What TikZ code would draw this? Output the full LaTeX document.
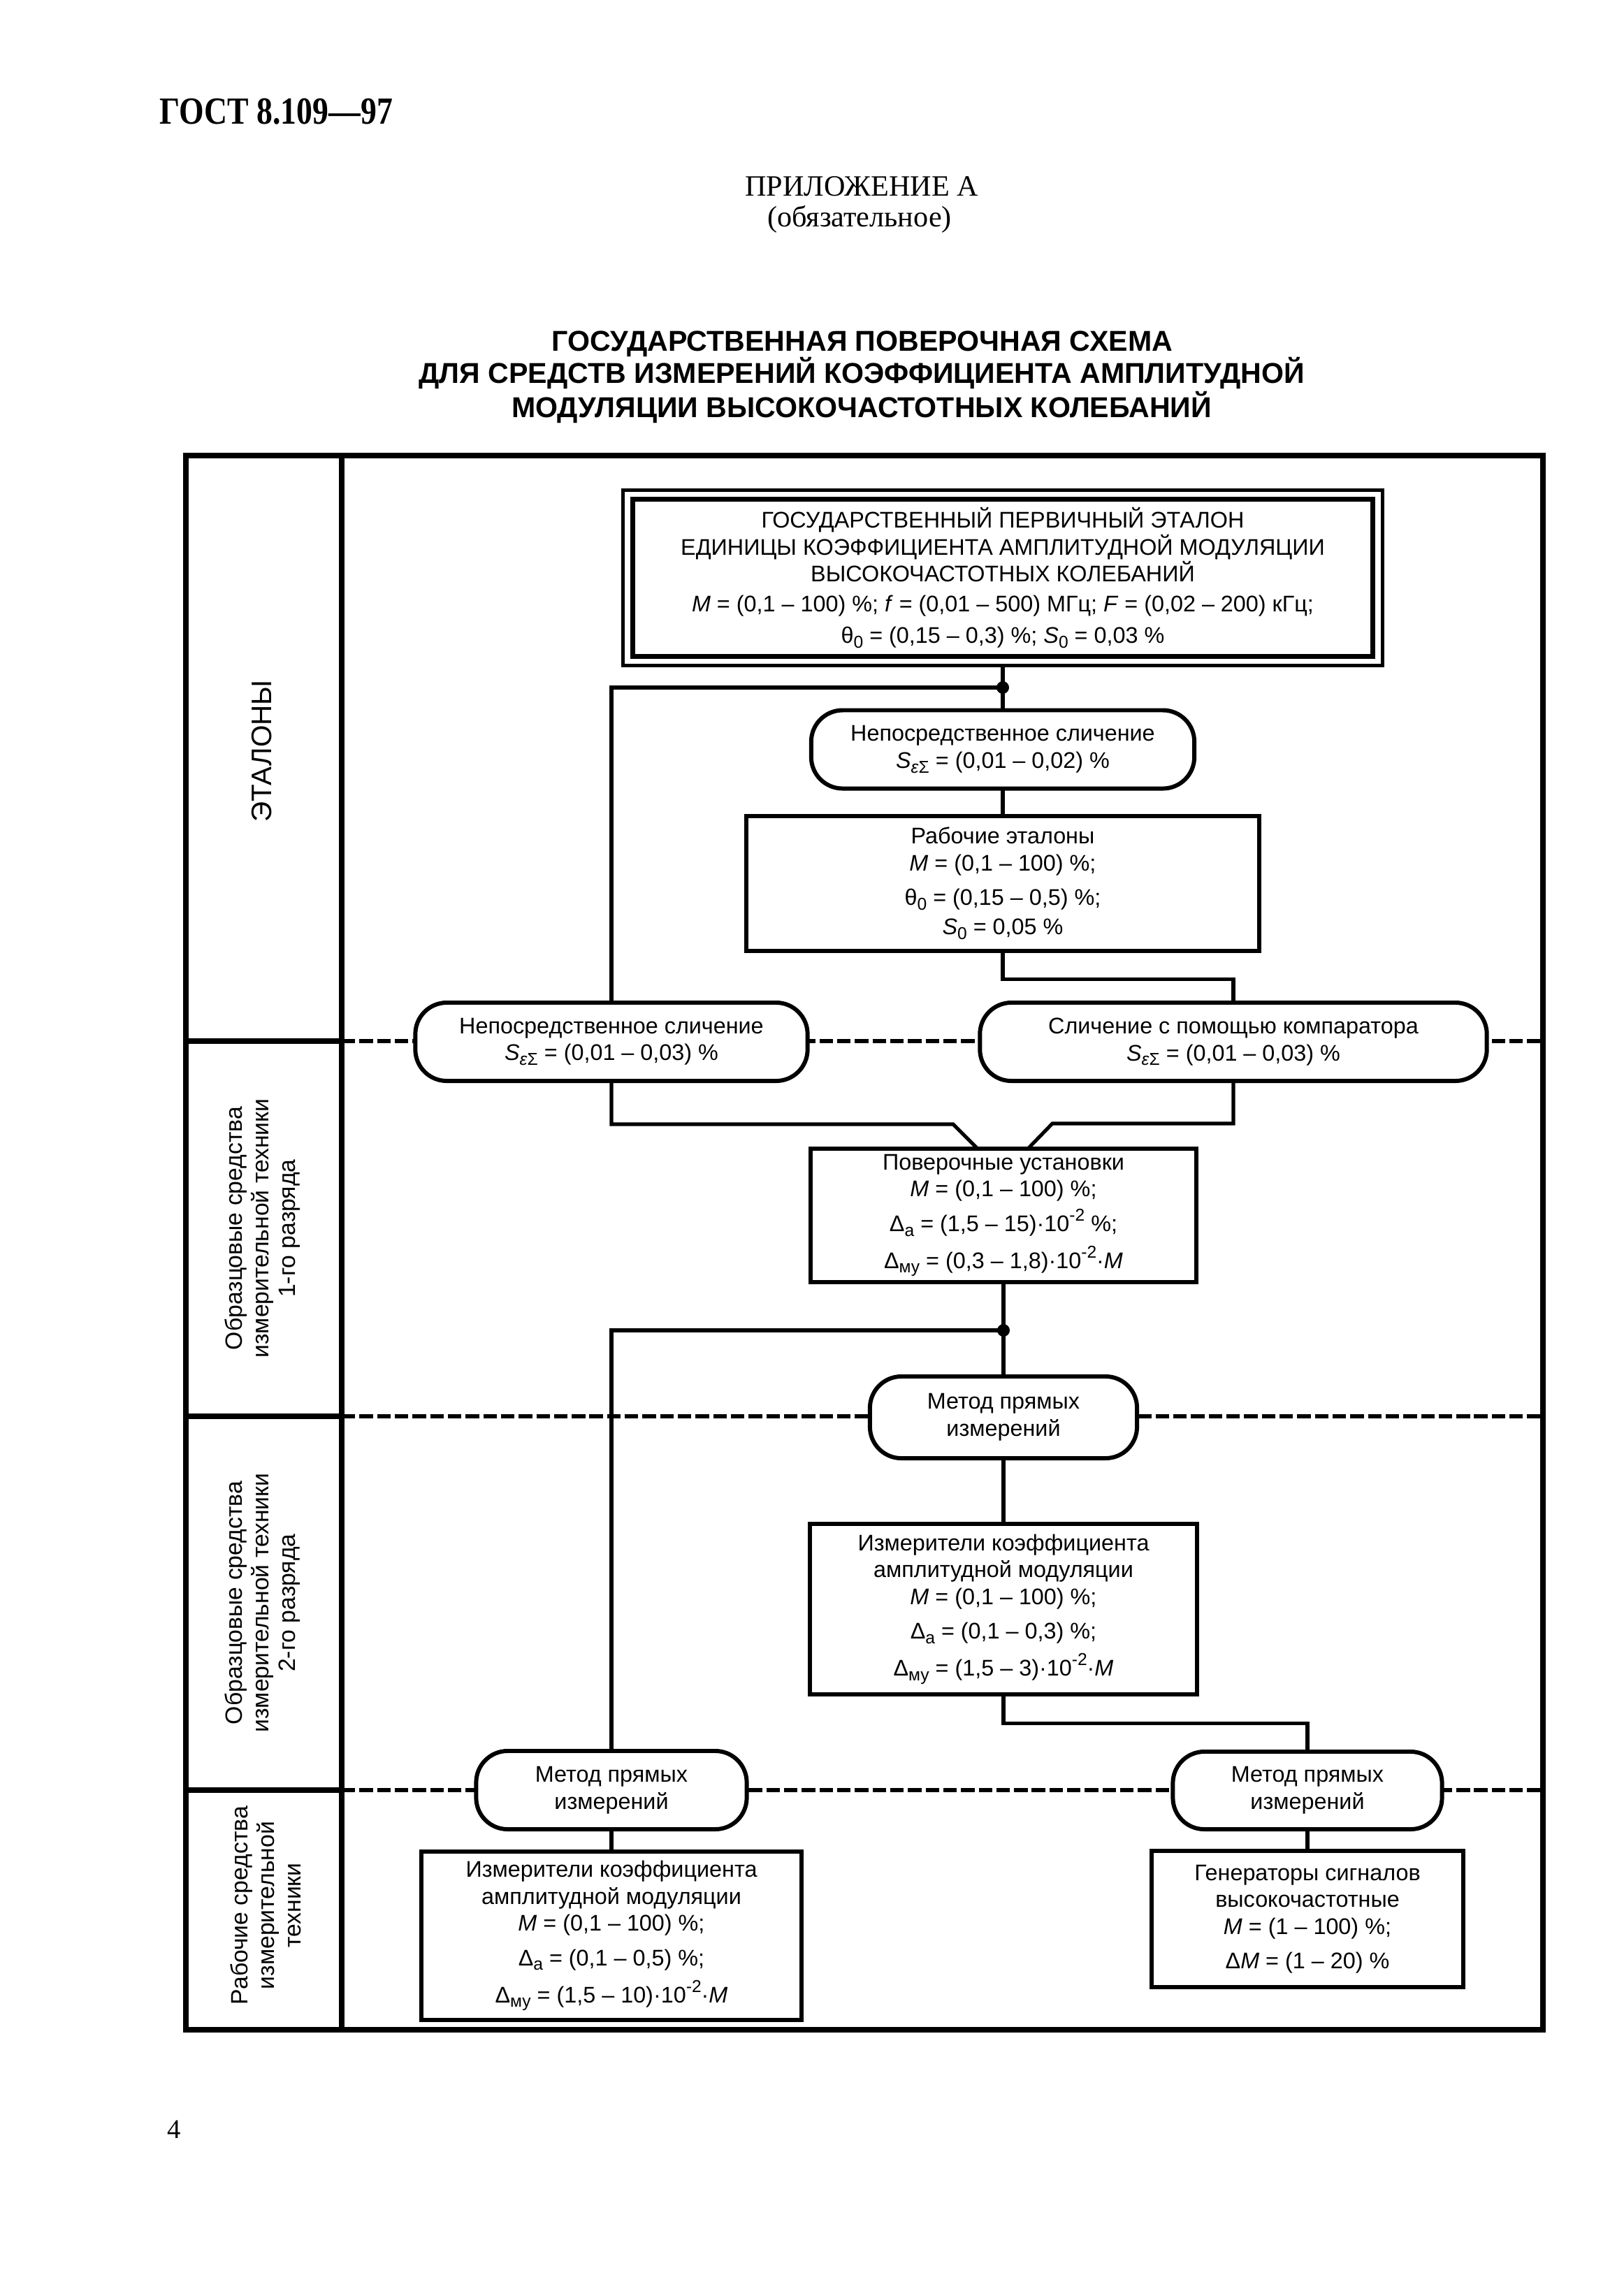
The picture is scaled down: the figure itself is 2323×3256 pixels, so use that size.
\documentclass[tikz,border=0pt]{standalone}
\usepackage{fontspec}
\setmainfont{Liberation Sans}
\newfontfamily\seriffont{Liberation Serif}
\usetikzlibrary{calc}
\newcommand{\lo}[1]{\raisebox{-0.4ex}{\fontsize{7}{7}\selectfont #1}}
\newcommand{\hi}[1]{\raisebox{0.85ex}{\fontsize{7}{7}\selectfont #1}}
\newcommand{\boxfont}{\fontsize{9.2}{11}\selectfont}
\begin{document}
\begin{tikzpicture}[x=0.01cm,y=-0.01cm,
 box/.style={draw, line width=1.7pt, fill=white, inner sep=0pt, outer sep=0pt, align=center, font=\boxfont},
 pill/.style={box, rounded corners=0.45cm},
 conn/.style={line width=1.45pt},
 divline/.style={line width=1.7pt, dash pattern=on 5.5pt off 1.7pt},
 frameline/.style={line width=2.3pt},
 dot/.style={circle, fill, inner sep=0pt, outer sep=0pt, minimum size=0.18cm},
 lbl/.style={rotate=90, align=center, font=\fontsize{9.6}{10.8}\selectfont}]
\useasboundingbox (0,0) rectangle (2323,3256);

% headings
\node[anchor=base west, inner sep=0pt, font=\seriffont\bfseries\fontsize{13}{15}\selectfont] (gost) at (228,177) {\scalebox{1}[1.2]{ГОСТ 8.109—97}};
\node[anchor=base, font=\seriffont\fontsize{12}{14}\selectfont] (app) at (1233,280) {ПРИЛОЖЕНИЕ А};
\node[anchor=base, font=\seriffont\fontsize{12}{14}\selectfont] (obl) at (1230,324) {(обязательное)};
\node[anchor=base, font=\bfseries\fontsize{11.7}{14}\selectfont] (t1) at (1234,502) {ГОСУДАРСТВЕННАЯ ПОВЕРОЧНАЯ СХЕМА};
\node[anchor=base, font=\bfseries\fontsize{11.7}{14}\selectfont] (t2) at (1233,548) {ДЛЯ СРЕДСТВ ИЗМЕРЕНИЙ КОЭФФИЦИЕНТА АМПЛИТУДНОЙ};
\node[anchor=base, font=\bfseries\fontsize{11.7}{14}\selectfont] (t3) at (1233,597) {МОДУЛЯЦИИ ВЫСОКОЧАСТОТНЫХ КОЛЕБАНИЙ};

% frame
\draw[frameline] (266,652) rectangle (2208,2905);
\draw[frameline] (489,652) -- (489,2905);
\foreach \yy in {1490,2027,2562} {
  \draw[frameline] (266,\yy) -- (489,\yy);
  \draw[divline] (489,\yy) -- (2208,\yy);
}

% row labels
\node[lbl, font=\fontsize{11.5}{13}\selectfont] (l1) at (375,1075) {ЭТАЛОНЫ};
\node[lbl] (l2) at (376,1758) {Образцовые средства\\измерительной техники\\1-го разряда};
\node[lbl] (l3) at (376,2294) {Образцовые средства\\измерительной техники\\2-го разряда};
\node[lbl] (l4) at (380,2727) {Рабочие средства\\измерительной\\техники};

% nodes
\node[box, line width=2pt, minimum width=10.59cm, minimum height=2.24cm] (prim) at (1435,827)
 {ГОСУДАРСТВЕННЫЙ ПЕРВИЧНЫЙ ЭТАЛОН\\ЕДИНИЦЫ КОЭФФИЦИЕНТА АМПЛИТУДНОЙ МОДУЛЯЦИИ\\ВЫСОКОЧАСТОТНЫХ КОЛЕБАНИЙ\\[1pt]
  \textit{M} = (0,1 – 100) \%; \textit{f} = (0,01 – 500) МГц; \textit{F} = (0,02 – 200) кГц;\\[2pt]
  θ\lo{0} = (0,15 – 0,3) \%; \textit{S}\lo{0} = 0,03 \%};
\node[draw, line width=1.4pt, inner sep=0pt, outer sep=0pt, minimum width=10.86cm, minimum height=2.51cm] (primo) at (prim.center) {};

\node[dot] (j1) at (1435,984) {};
\node[pill, minimum width=5.48cm, minimum height=1.12cm] (p1) at (1435,1072.5)
 {Непосредственное сличение\\\textit{S}\lo{\textit{ε}Σ} = (0,01 – 0,02) \%};
\node[box, minimum width=7.34cm, minimum height=1.93cm] (rw) at (1435,1264.5)
 {Рабочие эталоны\\\textit{M} = (0,1 – 100) \%;\\[3pt]θ\lo{0} = (0,15 – 0,5) \%;\\[1pt]\textit{S}\lo{0} = 0,05 \%};
\node[pill, minimum width=5.61cm, minimum height=1.12cm] (pL) at (875,1491)
 {Непосредственное сличение\\\textit{S}\lo{\textit{ε}Σ} = (0,01 – 0,03) \%};
\node[pill, minimum width=7.25cm, minimum height=1.12cm] (pC) at (1765,1491)
 {Сличение с помощью компаратора\\\textit{S}\lo{\textit{ε}Σ} = (0,01 – 0,03) \%};
\node[box, minimum width=5.51cm, minimum height=1.91cm] (pu) at (1436,1739.5)
 {Поверочные установки\\\textit{M} = (0,1 – 100) \%;\\[3pt]Δ\lo{а} = (1,5 – 15)·10\hi{-2} \%;\\[3pt]Δ\lo{му} = (0,3 – 1,8)·10\hi{-2}·\textit{M}};
\node[dot] (j2) at (1436,1904) {};
\node[pill, minimum width=3.82cm, minimum height=1.17cm] (m1) at (1436,2028.5) {Метод прямых\\измерений};
\node[box, minimum width=5.53cm, minimum height=2.44cm] (r2) at (1436,2303)
 {Измерители коэффициента\\амплитудной модуляции\\\textit{M} = (0,1 – 100) \%;\\[3pt]Δ\lo{а} = (0,1 – 0,3) \%;\\[3pt]Δ\lo{му} = (1,5 – 3)·10\hi{-2}·\textit{M}};
\node[pill, minimum width=3.87cm, minimum height=1.12cm] (m2) at (875,2562) {Метод прямых\\измерений};
\node[pill, minimum width=3.85cm, minimum height=1.11cm] (m3) at (1871,2562.5) {Метод прямых\\измерений};
\node[box, minimum width=5.43cm, minimum height=2.41cm] (b1) at (875,2770.5)
 {Измерители коэффициента\\амплитудной модуляции\\\textit{M} = (0,1 – 100) \%;\\[3pt]Δ\lo{а} = (0,1 – 0,5) \%;\\[3pt]Δ\lo{му} = (1,5 – 10)·10\hi{-2}·\textit{M}};
\node[box, minimum width=4.46cm, minimum height=1.95cm] (gen) at (1871,2746.5)
 {Генераторы сигналов\\высокочастотные\\\textit{M} = (1 – 100) \%;\\[3pt]Δ\textit{M} = (1 – 20) \%};

% connectors
\draw[conn] (primo.south) -- (j1.center) -- (p1.north);
\draw[conn] (j1.center) -| (pL.north);
\draw[conn] (p1.south) -- (rw.north);
\draw[conn] (rw.south) -- ++(0,40) -| (pC.north);
\draw[conn] (pL.south) |- ($(pu.north)+(-72,-35)$) -- ($(pu.north)+(-37,0)$);
\draw[conn] (pC.south) |- ($(pu.north)+(70,-36)$) -- ($(pu.north)+(35,0)$);
\draw[conn] (pu.south) -- (j2.center) -- (m1.north);
\draw[conn] (j2.center) -| (m2.north);
\draw[conn] (m1.south) -- (r2.north);
\draw[conn] (r2.south) -- ++(0,41) -| (m3.north);
\draw[conn] (m2.south) -- (b1.north);
\draw[conn] (m3.south) -- (gen.north);

\node[font=\seriffont\fontsize{11}{13}\selectfont] (pg) at (249,3048) {4};
\end{tikzpicture}
\end{document}
